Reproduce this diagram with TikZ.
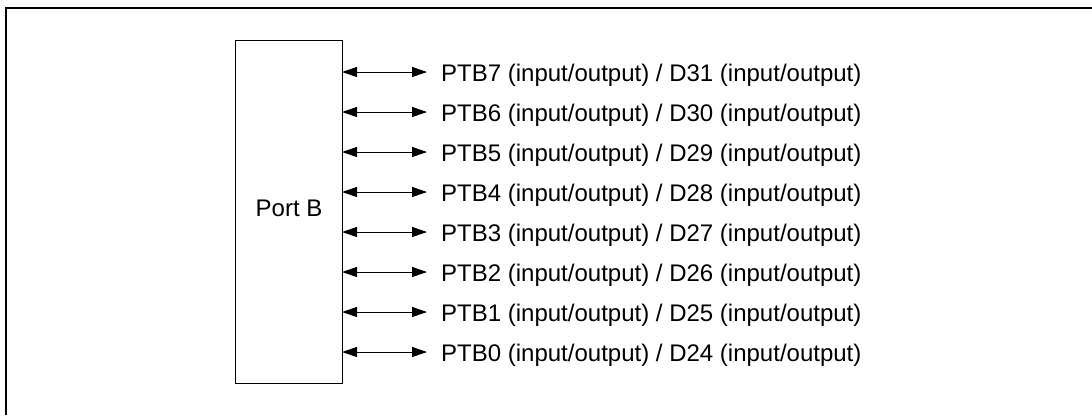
\documentclass[tikz,border=0pt]{standalone}
\usepackage{fontspec}
\setmainfont{Liberation Sans}
\usetikzlibrary{arrows.meta}
\begin{document}
\begin{tikzpicture}[x=1bp,y=-1bp,
  frame/.style={line width=1.3bp},
  portbox/.style={draw, line width=1bp, minimum width=107bp, minimum height=343bp, inner sep=0pt},
  sig/.style={line width=1bp, {Triangle[length=15bp,width=10bp]}-{Triangle[length=15bp,width=10bp]}},
  lbl/.style={anchor=base west, inner sep=0pt, font=\fontsize{24bp}{28bp}\selectfont}]
\useasboundingbox (0,0) rectangle (1092,415);
\draw[frame] (6,415) -- (6,8) -- (1092,8);
\node[portbox] (box) at (288.5,211.5) {};
\node[anchor=base, inner sep=0pt, font=\fontsize{24bp}{28bp}\selectfont] (pb) at (289,216) {Port B};
\foreach \i/\n/\d in {0/7/31,1/6/30,2/5/29,3/4/28,4/3/27,5/2/26,6/1/25,7/0/24}{
  \coordinate (l\n) at (342,72+40*\i);
  \coordinate (r\n) at (427,72+40*\i);
  \draw[sig] (l\n) -- (r\n);
  \node[lbl] (t\n) at (441,81+40*\i) {PTB\n\ (input/output) / D\d\ (input/output)};
}
\end{tikzpicture}
\end{document}
